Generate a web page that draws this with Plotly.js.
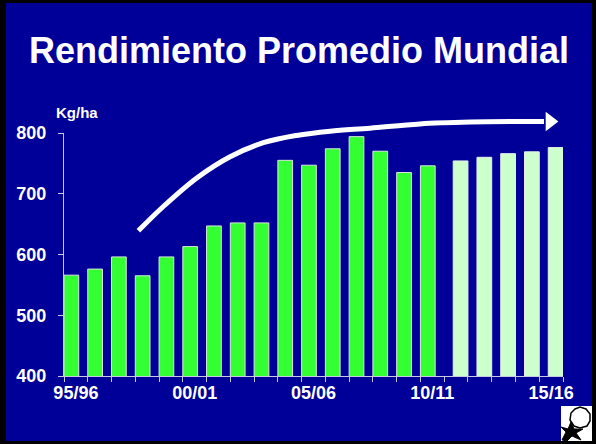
<!DOCTYPE html>
<html>
<head>
<meta charset="utf-8">
<script src="https://cdn.plot.ly/plotly-3.0.1.min.js"></script>
<style>
  html, body { margin: 0; padding: 0; background: #000000; width: 596px; height: 444px; overflow: hidden; }
  #chart { position: absolute; left: 6px; top: 3px; width: 586px; height: 438px; }
</style>
</head>
<body>
<div id="chart"></div>
<script>
// Seasons (campañas)
const categories = ["95/96","96/97","97/98","98/99","99/00","00/01","01/02","02/03","03/04","04/05",
                    "05/06","06/07","07/08","08/09","09/10","10/11","11/12","12/13","13/14","14/15","15/16"];
// Historical yield (kg/ha)
const historico = [566, 576, 596, 565, 596, 613, 647, 652, 652, 755, 747, 774, 794, 770, 735, 746];
// Projected yield (kg/ha)
const proyectado = [754, 760, 766, 769, 776];
// Labelled ticks every 5 seasons
const labelStep = 5;
// Trend arrow path (season index, kg/ha)
const trendX = [2.63, 3.68, 5.09, 6.49, 7.89, 9.29, 10.70, 12.38, 14.48, 16.59, 18.69, 19.70];
const trendY = [639, 679, 726, 761, 784, 796, 803, 808, 815, 818, 819, 819];
const arrowTip = [19.95, 819];

const idx = categories.map((_, i) => i);
const histX = idx.slice(0, historico.length);
const projX = idx.slice(historico.length, historico.length + proyectado.length);
const tickvals = idx.filter(i => i % labelStep === 0);
const ticktext = tickvals.map(i => categories[i]);

const axisColor = "#c8c8e0";
const font = "Liberation Sans, Arial, sans-serif";

// plot-area geometry (div pixels)
const W = 586, H = 438, ML = 58, MR = 29, MT = 80, MB = 65;
const PW = W - ML - MR, PH = H - MT - MB;
const mainTop = 130;                       // top of value axis (div px)
const mainFrac = (H - MB - mainTop) / PH;  // main y domain fraction
const yMin = 400, yMax = 800;
const y2Max = yMin + (yMax - yMin) / mainFrac;
// helpers: absolute page pixel -> paper
const px = x => (x - 6 - ML) / PW;
const py = y => (H - MB - (y - 3)) / PH;

const traces = [
  {
    type: "bar", x: histX, y: historico, width: 0.62, offset: -0.5,
    marker: { color: "#33ff33", line: { color: "#d8e8d8", width: 1 } },
    hoverinfo: "skip"
  },
  {
    type: "bar", x: projX, y: proyectado, width: 0.62, offset: -0.12,
    marker: { color: "#ccffcc", line: { color: "#e8f0e8", width: 1 } },
    hoverinfo: "skip"
  },
  {
    type: "scatter", mode: "lines", x: trendX, y: trendY, xaxis: "x2", yaxis: "y2",
    line: { color: "#ffffff", width: 5, shape: "spline", smoothing: 1 },
    hoverinfo: "skip"
  },
  {
    type: "scatter", mode: "markers", x: [arrowTip[0]], y: [arrowTip[1]], xaxis: "x2", yaxis: "y2",
    marker: { symbol: "triangle-right", size: 17, color: "#ffffff", line: { width: 0 } },
    hoverinfo: "skip"
  }
];

function pathFrom(points) {
  return points.map((p, i) => (i ? "L " : "M ") + px(p[0]) + " " + py(p[1])).join(" ") + " Z";
}
const boll = [[570,420],[571,413],[575,409],[580,407],[586,409],[590,414],[590,421],[587,426],[580,428],[574,426]];
const bracts = [[562,440],[566,432],[561,427],[568,429],[571,422],[574,429],[583,429],[576,433],[581,440],[572,436],[567,441]];

const layout = {
  width: W, height: H,
  margin: { l: ML, r: MR, t: MT, b: MB, pad: 0 },
  paper_bgcolor: "#000099",
  plot_bgcolor: "rgba(0,0,0,0)",
  showlegend: false,
  barmode: "overlay",
  font: { family: font, color: "#ffffff" },
  title: {
    text: "<b>Rendimiento Promedio Mundial</b>",
    font: { family: font, size: 36, color: "#ffffff" },
    x: 0.5, xanchor: "center", xref: "container",
    y: 1 - 47 / 438, yanchor: "middle", yref: "container"
  },
  xaxis: {
    type: "linear", range: [-0.5, categories.length - 0.5], anchor: "y",
    tickmode: "array", tickvals: tickvals, ticktext: ticktext,
    ticks: "", showgrid: false, zeroline: false,
    showline: true, linecolor: axisColor, linewidth: 1,
    tickfont: { family: font, size: 18, color: "#ffffff", weight: "bold" },
    minor: { tickmode: "linear", tick0: -0.5, dtick: 1, ticks: "outside", ticklen: 5, tickcolor: axisColor, tickwidth: 1, showgrid: false },
    fixedrange: true
  },
  yaxis: {
    domain: [0, mainFrac], anchor: "x",
    range: [yMin, yMax], tickvals: [400, 500, 600, 700, 800],
    ticks: "outside", ticklen: 5, tickcolor: axisColor, tickwidth: 1,
    showgrid: false, zeroline: false,
    showline: true, linecolor: axisColor, linewidth: 1,
    ticklabelstandoff: 8,
    tickfont: { family: font, size: 18, color: "#ffffff", weight: "bold" },
    fixedrange: true
  },
  xaxis2: { range: [-0.5, categories.length - 0.5], anchor: "y2", visible: false, fixedrange: true },
  yaxis2: { domain: [0, 1], range: [yMin, y2Max], anchor: "x2", visible: false, fixedrange: true },
  annotations: [
    {
      text: "<b>Kg/ha</b>", xref: "paper", yref: "paper",
      x: px(76.5), y: py(113), xanchor: "center", yanchor: "middle",
      showarrow: false, font: { family: font, size: 15, color: "#ffffff" }
    }
  ],
  shapes: [
    { type: "rect", xref: "paper", yref: "paper",
      x0: px(561), x1: px(592), y0: py(441), y1: py(406),
      fillcolor: "#ffffff", line: { width: 0 } },
    { type: "path", xref: "paper", yref: "paper", path: pathFrom(boll),
      fillcolor: "#ffffff", line: { color: "#000000", width: 1.5 } },
    { type: "path", xref: "paper", yref: "paper", path: pathFrom(bracts),
      fillcolor: "#000000", line: { color: "#000000", width: 1 } }
  ]
};

Plotly.newPlot("chart", traces, layout, { displayModeBar: false, staticPlot: true });
</script>
</body>
</html>
